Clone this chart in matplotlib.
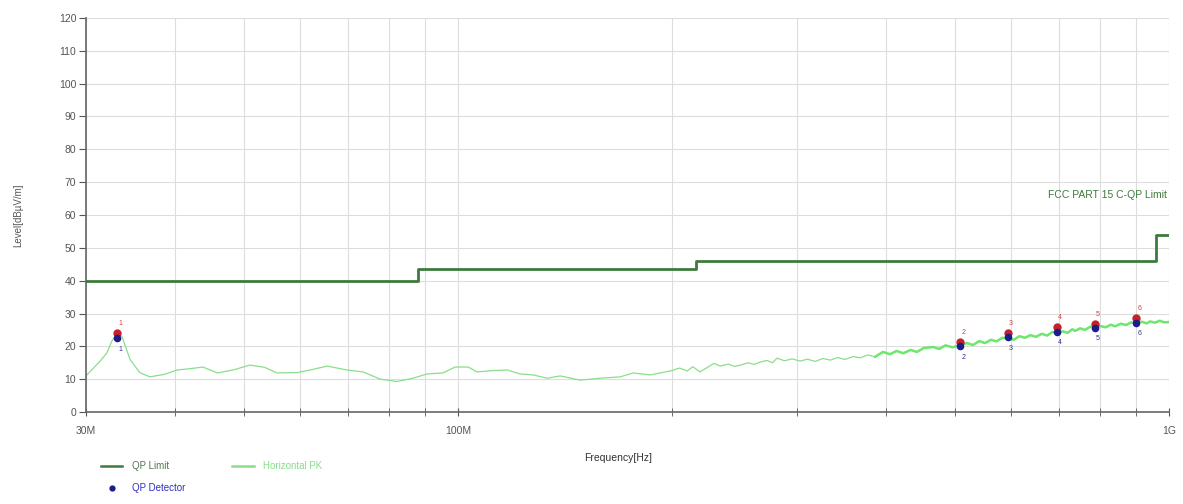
import matplotlib
matplotlib.use("Agg")
import matplotlib.pyplot as plt
from matplotlib.lines import Line2D
from matplotlib.ticker import FixedLocator, NullFormatter

plt.rcParams['font.family'] = ['Liberation Sans', 'DejaVu Sans']

# ---- data (MHz, dBuV/m) ----
limit_freq = [30, 88, 88, 216, 216, 960, 960, 1000]
limit_level = [40, 40, 43.5, 43.5, 46, 46, 54, 54]

pk_freq = [30, 31.4, 32.1, 32.6, 33.2, 33.7, 34.6, 35.7, 36.9, 38.7, 40.3, 42.0,
           43.8, 45.9, 48.3, 51.0, 53.5, 55.7, 59.4, 62.6, 65.5, 69.8, 73.6, 77.8,
           82.1, 86.5, 90.5, 95.3, 99.1, 103.4, 106.4, 111.7, 117.3, 122.3, 127.6,
           133.5, 139.3, 148.6, 158.5, 169.1, 176.4, 186.4, 198.9,
           205, 210, 214, 219, 224, 229, 234, 240, 245, 250, 256, 261, 266, 272,
           277, 281, 288, 295, 303, 310, 318, 326, 334, 342, 350, 360, 368, 377,
           386, 396, 405, 414, 423, 433, 442, 452, 466, 475, 485, 496, 509, 520,
           530, 541, 551, 562, 572, 583, 594, 605, 616, 627, 638, 650, 662, 674,
           686, 696, 708, 720, 731, 738, 750, 762, 775, 788, 800, 815, 828, 840,
           855, 870, 885, 900, 915, 930, 941, 955, 970, 985, 1000]
pk_level = [11.0, 15.5, 18.0, 21.5, 24.2, 23.0, 16.0, 12.0, 10.7, 11.5, 12.8, 13.2,
            13.7, 11.9, 12.8, 14.3, 13.6, 11.9, 12.0, 13.0, 14.0, 12.8, 12.2, 10.0,
            9.3, 10.3, 11.6, 11.9, 13.7, 13.7, 12.2, 12.6, 12.8, 11.6, 11.3,
            10.3, 11.0, 9.7, 10.3, 10.7, 11.9, 11.3, 12.5,
            13.4, 12.5, 13.8, 12.2, 13.5, 14.8, 14.0, 14.6, 13.9, 14.3, 15.0, 14.5,
            15.2, 15.7, 15.0, 16.4, 15.6, 16.2, 15.5, 16.1, 15.4, 16.3, 15.8, 16.6,
            16.0, 16.9, 16.5, 17.4, 16.8, 18.3, 17.6, 18.6, 17.9, 18.9, 18.3, 19.5,
            19.8, 19.2, 20.3, 19.7, 20.4, 21.0, 20.4, 21.6, 21.0, 22.0, 21.5, 22.6,
            22.5, 22.0, 23.1, 22.6, 23.4, 22.9, 23.8, 23.3, 24.4, 24.0, 24.6, 24.1,
            25.2, 24.7, 25.5, 25.0, 26.0, 25.6, 26.2, 25.8, 26.6, 26.1, 26.9, 26.5,
            27.3, 27.0, 27.5, 27.0, 27.6, 27.2, 27.8, 27.3, 27.4]

marker_freq = [33.2, 508.8, 594.2, 696.4, 787.6, 899.8]
marker_pk = [24.0, 21.3, 24.1, 25.9, 26.8, 28.6]
marker_qp = [22.5, 20.1, 22.8, 24.4, 25.6, 27.2]
marker_ids = ['1', '2', '3', '4', '5', '6']

major_ticks = [30, 100, 1000]
major_labels = ['30M', '100M', '1G']
minor_ticks = [40, 50, 60, 70, 80, 90, 200, 300, 400, 500, 600, 700, 800, 900]
y_ticks = list(range(0, 121, 10))

# ---- figure ----
fig = plt.figure(figsize=(11.83, 5.04), dpi=100)
ax = fig.add_axes([0.0727, 0.1825, 0.9155, 0.7818])

lim_color = '#3d7a3d'
pk_color = '#8ade8a'
red = '#c8202a'
blue = '#1c1c8a'
txt = '#555555'

ax.set_xscale('log')
ax.set_xlim(30, 1000)
ax.set_ylim(0, 120)

ax.xaxis.set_major_locator(FixedLocator(major_ticks))
ax.set_xticklabels(major_labels)
ax.xaxis.set_minor_locator(FixedLocator(minor_ticks))
ax.xaxis.set_minor_formatter(NullFormatter())
ax.set_yticks(y_ticks)

ax.grid(True, which='both', axis='x', color='#dddddd', linewidth=0.8)
ax.grid(True, which='major', axis='y', color='#dddddd', linewidth=0.8)
ax.set_axisbelow(True)

for s in ['top', 'right']:
    ax.spines[s].set_visible(False)
for s in ['left', 'bottom']:
    ax.spines[s].set_color('#666666')
    ax.spines[s].set_linewidth(1.2)

ax.tick_params(axis='both', which='both', colors='#555555', labelsize=7.5,
               labelcolor=txt)
ax.tick_params(axis='x', which='both', direction='inout', length=6, pad=7)
ax.tick_params(axis='y', which='major', direction='out', length=5, pad=2)

ax.plot(limit_freq, limit_level, color=lim_color, linewidth=2.0, zorder=3)
ax.plot(pk_freq, pk_level, color=pk_color, linewidth=0.9, zorder=2)
hi = [i for i, f in enumerate(pk_freq) if f >= 380]
ax.plot([pk_freq[i] for i in hi], [pk_level[i] for i in hi], color='#6ce86c',
        linewidth=1.8, zorder=2)

ax.scatter(marker_freq, marker_pk, s=36, color=red, zorder=5, linewidths=0)
ax.scatter(marker_freq, marker_qp, s=30, color=blue, zorder=6, linewidths=0)
for f, p, q, lab in zip(marker_freq, marker_pk, marker_qp, marker_ids):
    ax.annotate(lab, (f, p), xytext=(2, 6), textcoords='offset points',
                fontsize=5, color='#d04040', ha='center')
    ax.annotate(lab, (f, q), xytext=(2, -9), textcoords='offset points',
                fontsize=5, color='#3030a0', ha='center')

ax.text(0.998, 66, 'FCC PART 15 C-QP Limit', transform=ax.get_yaxis_transform(),
        ha='right', va='center', fontsize=7.5, color=lim_color)

ax.set_ylabel('Level[dB\u00b5V/m]', fontsize=7, color=txt)
ax.yaxis.set_label_coords(-0.058, 0.5)
ax.set_xlabel('Frequency[Hz]', fontsize=7.5, color='#333333')
ax.xaxis.set_label_coords(0.491, -0.105)

handles = [Line2D([0], [0], color=lim_color, linewidth=1.8),
           Line2D([0], [0], marker='o', linestyle='none', markersize=3.5,
                  color=blue),
           Line2D([0], [0], color=pk_color, linewidth=1.8)]
labels = ['QP Limit', 'QP Detector', 'Horizontal PK']
leg = fig.legend(handles, labels, loc='upper left', bbox_to_anchor=(0.078, 0.102),
                 ncol=2, frameon=False, fontsize=7, handlelength=2.2,
                 columnspacing=4.8, labelspacing=1.2, handletextpad=1.0)
for t, c in zip(leg.get_texts(), ['#557755', '#3030c0', pk_color]):
    t.set_color(c)

fig.savefig('out.png', dpi=100)
